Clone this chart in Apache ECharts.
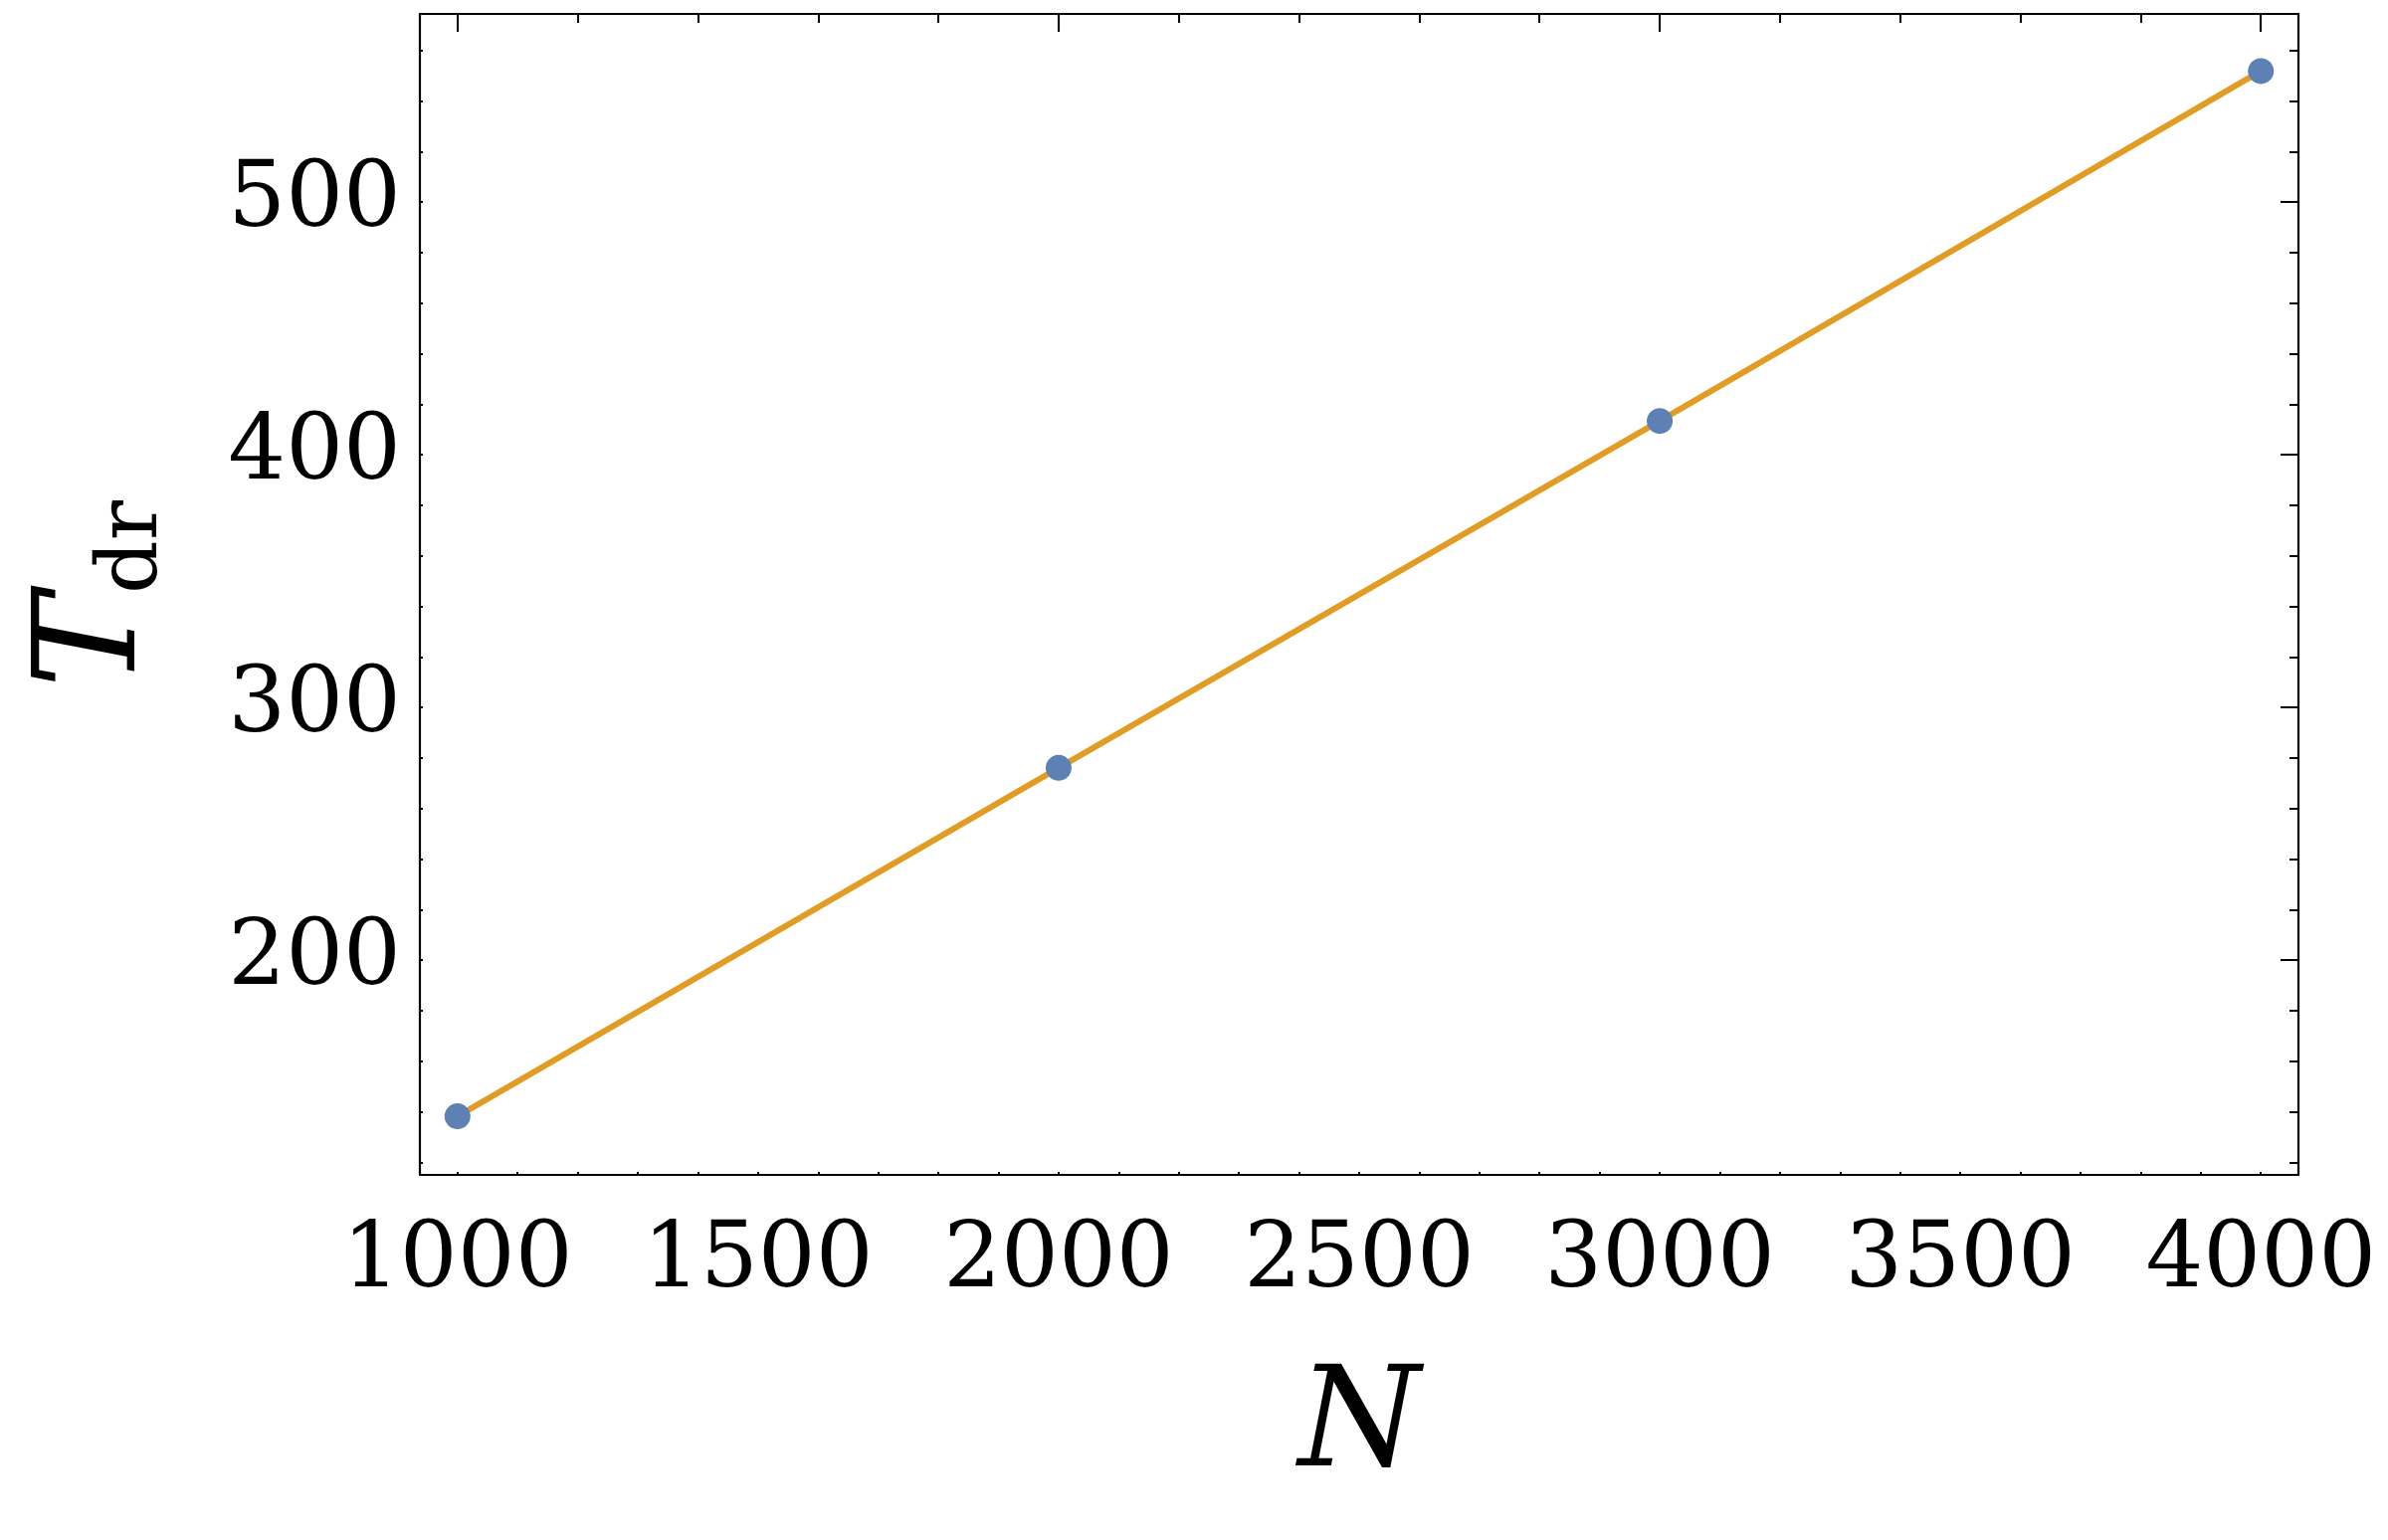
<!DOCTYPE html>
<html>
<head>
<meta charset="utf-8">
<script src="https://cdn.jsdelivr.net/npm/echarts@6/dist/echarts.min.js"></script>
<style>
html,body{margin:0;padding:0;background:#fff;}
#chart{width:2400px;height:1548px;}
</style>
</head>
<body>
<div id="chart"></div>
<script>
// Data
const nValues = [1000, 2000, 3000, 4000];
const tdrValues = [138.2, 276.1, 413.4, 551.9];

// Tick labels / tick positions
const xTickLabels = [1000, 1500, 2000, 2500, 3000, 3500, 4000];
const yTickLabels = [200, 300, 400, 500];
const xMinorTicks = [1000,1100,1200,1300,1400,1500,1600,1700,1800,1900,2000,2100,2200,2300,2400,2500,2600,2700,2800,2900,3000,3100,3200,3300,3400,3500,3600,3700,3800,3900,4000];
const xTopTicks = [1000,1200,1400,1600,1800,2000,2200,2400,2600,2800,3000,3200,3400,3600,3800,4000];
const xTopMajorTicks = [1000, 2000, 3000, 4000];
const yMinorTicks = [120,140,160,180,200,220,240,260,280,300,320,340,360,380,400,420,440,460,480,500,520,540,560];
const yRightMajorTicks = [200, 300, 400, 500];

const pointData = nValues.map((n, i) => [n, tdrValues[i]]);

const FONT = 'DejaVu Serif';
const X_MIN = 937.5, X_MAX = 4062.5;
const Y_MIN = 115, Y_MAX = 574.5;
const AXLINE = {color: '#000', width: 2.2};
const plain = v => String(v);

const chart = echarts.init(document.getElementById('chart'), null, {renderer: 'canvas'});
chart.setOption({
  animation: false,
  backgroundColor: '#fff',
  grid: {left: 422, right: 90, top: 14, bottom: 367, containLabel: false},
  xAxis: [
    {
      type: 'value', position: 'bottom', min: X_MIN, max: X_MAX,
      axisLine: {show: true, onZero: false, lineStyle: AXLINE},
      axisTick: {show: true, inside: true, length: 3, customValues: xMinorTicks, lineStyle: {color: '#000', width: 2}},
      axisLabel: {show: true, customValues: xTickLabels, formatter: plain, margin: 43, color: '#000', fontFamily: FONT, fontSize: 91},
      splitLine: {show: false},
      name: 'N', nameLocation: 'middle', nameGap: 186,
      nameTextStyle: {fontFamily: FONT, fontStyle: 'italic', fontSize: 140, color: '#000', lineHeight: 140}
    },
    {
      type: 'value', position: 'top', min: X_MIN, max: X_MAX,
      axisLine: {show: true, onZero: false, lineStyle: AXLINE},
      axisTick: {show: true, inside: true, length: 9, customValues: xTopTicks, lineStyle: {color: '#000', width: 2}},
      axisLabel: {show: false}, splitLine: {show: false}
    },
    {
      type: 'value', position: 'top', min: X_MIN, max: X_MAX,
      axisLine: {show: false, onZero: false},
      axisTick: {show: true, inside: true, length: 18, customValues: xTopMajorTicks, lineStyle: {color: '#000', width: 2}},
      axisLabel: {show: false}, splitLine: {show: false}
    }
  ],
  yAxis: [
    {
      type: 'value', position: 'left', min: Y_MIN, max: Y_MAX,
      axisLine: {show: true, onZero: false, lineStyle: AXLINE},
      axisTick: {show: true, inside: true, length: 3, customValues: yMinorTicks, lineStyle: {color: '#000', width: 2}},
      axisLabel: {show: true, customValues: yTickLabels, formatter: plain, margin: 19, color: '#000', fontFamily: FONT, fontSize: 91},
      splitLine: {show: false},
      name: '{t|T}{s|dr}', nameLocation: 'middle', nameGap: 245, nameRotate: 90,
      nameTextStyle: {
        color: '#000',
        rich: {
          t: {fontFamily: FONT, fontStyle: 'italic', fontSize: 142, color: '#000', lineHeight: 150, verticalAlign: 'top'},
          s: {fontFamily: FONT, fontSize: 84, color: '#000', lineHeight: 150, verticalAlign: 'bottom'}
        }
      }
    },
    {
      type: 'value', position: 'right', min: Y_MIN, max: Y_MAX,
      axisLine: {show: true, onZero: false, lineStyle: AXLINE},
      axisTick: {show: true, inside: true, length: 9, customValues: yMinorTicks, lineStyle: {color: '#000', width: 2}},
      axisLabel: {show: false}, splitLine: {show: false}
    },
    {
      type: 'value', position: 'right', min: Y_MIN, max: Y_MAX,
      axisLine: {show: false, onZero: false},
      axisTick: {show: true, inside: true, length: 18, customValues: yRightMajorTicks, lineStyle: {color: '#000', width: 2}},
      axisLabel: {show: false}, splitLine: {show: false}
    }
  ],
  series: [
    {
      type: 'line', xAxisIndex: 0, yAxisIndex: 0, data: pointData,
      showSymbol: false, symbol: 'none',
      lineStyle: {color: '#E19C24', width: 6}, z: 2, silent: true
    },
    {
      type: 'scatter', xAxisIndex: 0, yAxisIndex: 0, data: pointData,
      symbol: 'circle', symbolSize: 26,
      itemStyle: {color: '#5E81B5', opacity: 1}, z: 3, silent: true
    }
  ]
});
</script>
</body>
</html>
